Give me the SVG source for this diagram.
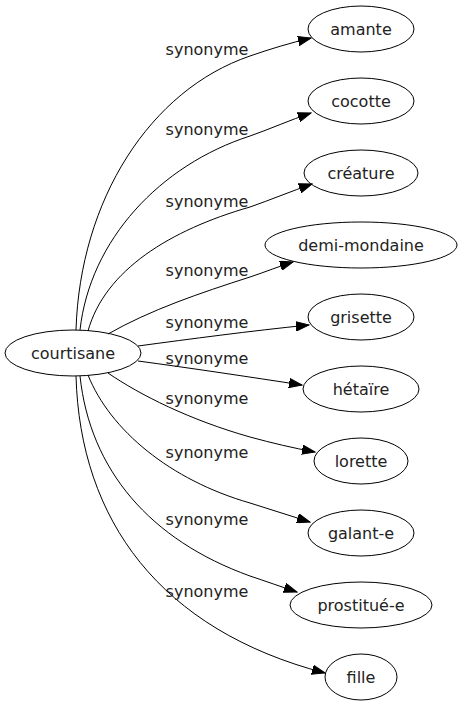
<svg xmlns="http://www.w3.org/2000/svg" width="462" height="707" viewBox="0 0 462 707">
<defs>
<style>
.node ellipse{fill:none;stroke:#000;stroke-width:1}
.node text{font-family:"DejaVu Sans",sans-serif;font-size:16px;fill:#222;text-anchor:middle}
.lbl{font-family:"DejaVu Sans",sans-serif;font-size:16px;fill:#222;text-anchor:middle}
.edge{fill:none;stroke:#000;stroke-width:1;marker-end:url(#arr)}
</style>
<marker id="arr" markerUnits="userSpaceOnUse" markerWidth="14" markerHeight="10" viewBox="0 -5 14 10" refX="13" refY="0" orient="auto">
<path d="M0,-4.7 L13,0 L0,4.7 z" fill="#000" stroke="#000" stroke-width="1"/>
</marker>
</defs>
<rect width="462" height="707" fill="#fff"/>
<g id="edges">
<path class="edge" d="M76,330 C80,200 150,90 250,56 C270,49 290,43 311,38"/>
<path class="edge" d="M80,330 C90,240 160,165 250,136 C270,129 290,120 311,113"/>
<path class="edge" d="M88,331 C105,270 170,230 250,207 C270,200 292,191 312,184"/>
<path class="edge" d="M108,334 C150,310 200,293 250,277 C265,272 280,266 293,262"/>
<path class="edge" d="M138,346 C190,339 250,331 309,325"/>
<path class="edge" d="M138,361 C190,368 250,377 302,385"/>
<path class="edge" d="M108,373 C140,395 190,420 250,437 C272,443 293,448 315,452"/>
<path class="edge" d="M88,375 C110,430 170,480 250,503 C270,509 290,516 310,522"/>
<path class="edge" d="M80,376 C90,470 150,540 250,576 C265,581 282,587 297,592"/>
<path class="edge" d="M76,376 C80,520 160,630 325,673"/>
</g>
<g id="labels">
<text class="lbl" x="207" y="55">synonyme</text>
<text class="lbl" x="207" y="135">synonyme</text>
<text class="lbl" x="207" y="207">synonyme</text>
<text class="lbl" x="207" y="276">synonyme</text>
<text class="lbl" x="207" y="328">synonyme</text>
<text class="lbl" x="207" y="364">synonyme</text>
<text class="lbl" x="207" y="404">synonyme</text>
<text class="lbl" x="207" y="458">synonyme</text>
<text class="lbl" x="207" y="525">synonyme</text>
<text class="lbl" x="207" y="597">synonyme</text>
</g>
<g id="courtisane" class="node"><ellipse cx="73" cy="353" rx="68" ry="23"/><text x="73" y="359">courtisane</text></g>
<g id="amante" class="node"><ellipse cx="361" cy="29" rx="53" ry="23"/><text x="361" y="35">amante</text></g>
<g id="cocotte" class="node"><ellipse cx="361" cy="101" rx="53" ry="23"/><text x="361" y="107">cocotte</text></g>
<g id="creature" class="node"><ellipse cx="361" cy="173" rx="57" ry="23"/><text x="361" y="179">créature</text></g>
<g id="demi-mondaine" class="node"><ellipse cx="361" cy="245" rx="96" ry="23"/><text x="361" y="251">demi-mondaine</text></g>
<g id="grisette" class="node"><ellipse cx="361" cy="317" rx="53" ry="23"/><text x="361" y="323">grisette</text></g>
<g id="hetaire" class="node"><ellipse cx="361" cy="389" rx="58" ry="23"/><text x="361" y="395">hétaïre</text></g>
<g id="lorette" class="node"><ellipse cx="361" cy="461" rx="47" ry="23"/><text x="361" y="467">lorette</text></g>
<g id="galant-e" class="node"><ellipse cx="361" cy="533" rx="53" ry="23"/><text x="361" y="539">galant-e</text></g>
<g id="prostitue-e" class="node"><ellipse cx="361" cy="605" rx="71" ry="23"/><text x="361" y="611">prostitué-e</text></g>
<g id="fille" class="node"><ellipse cx="361" cy="677" rx="36" ry="23"/><text x="361" y="683">fille</text></g>
</svg>
